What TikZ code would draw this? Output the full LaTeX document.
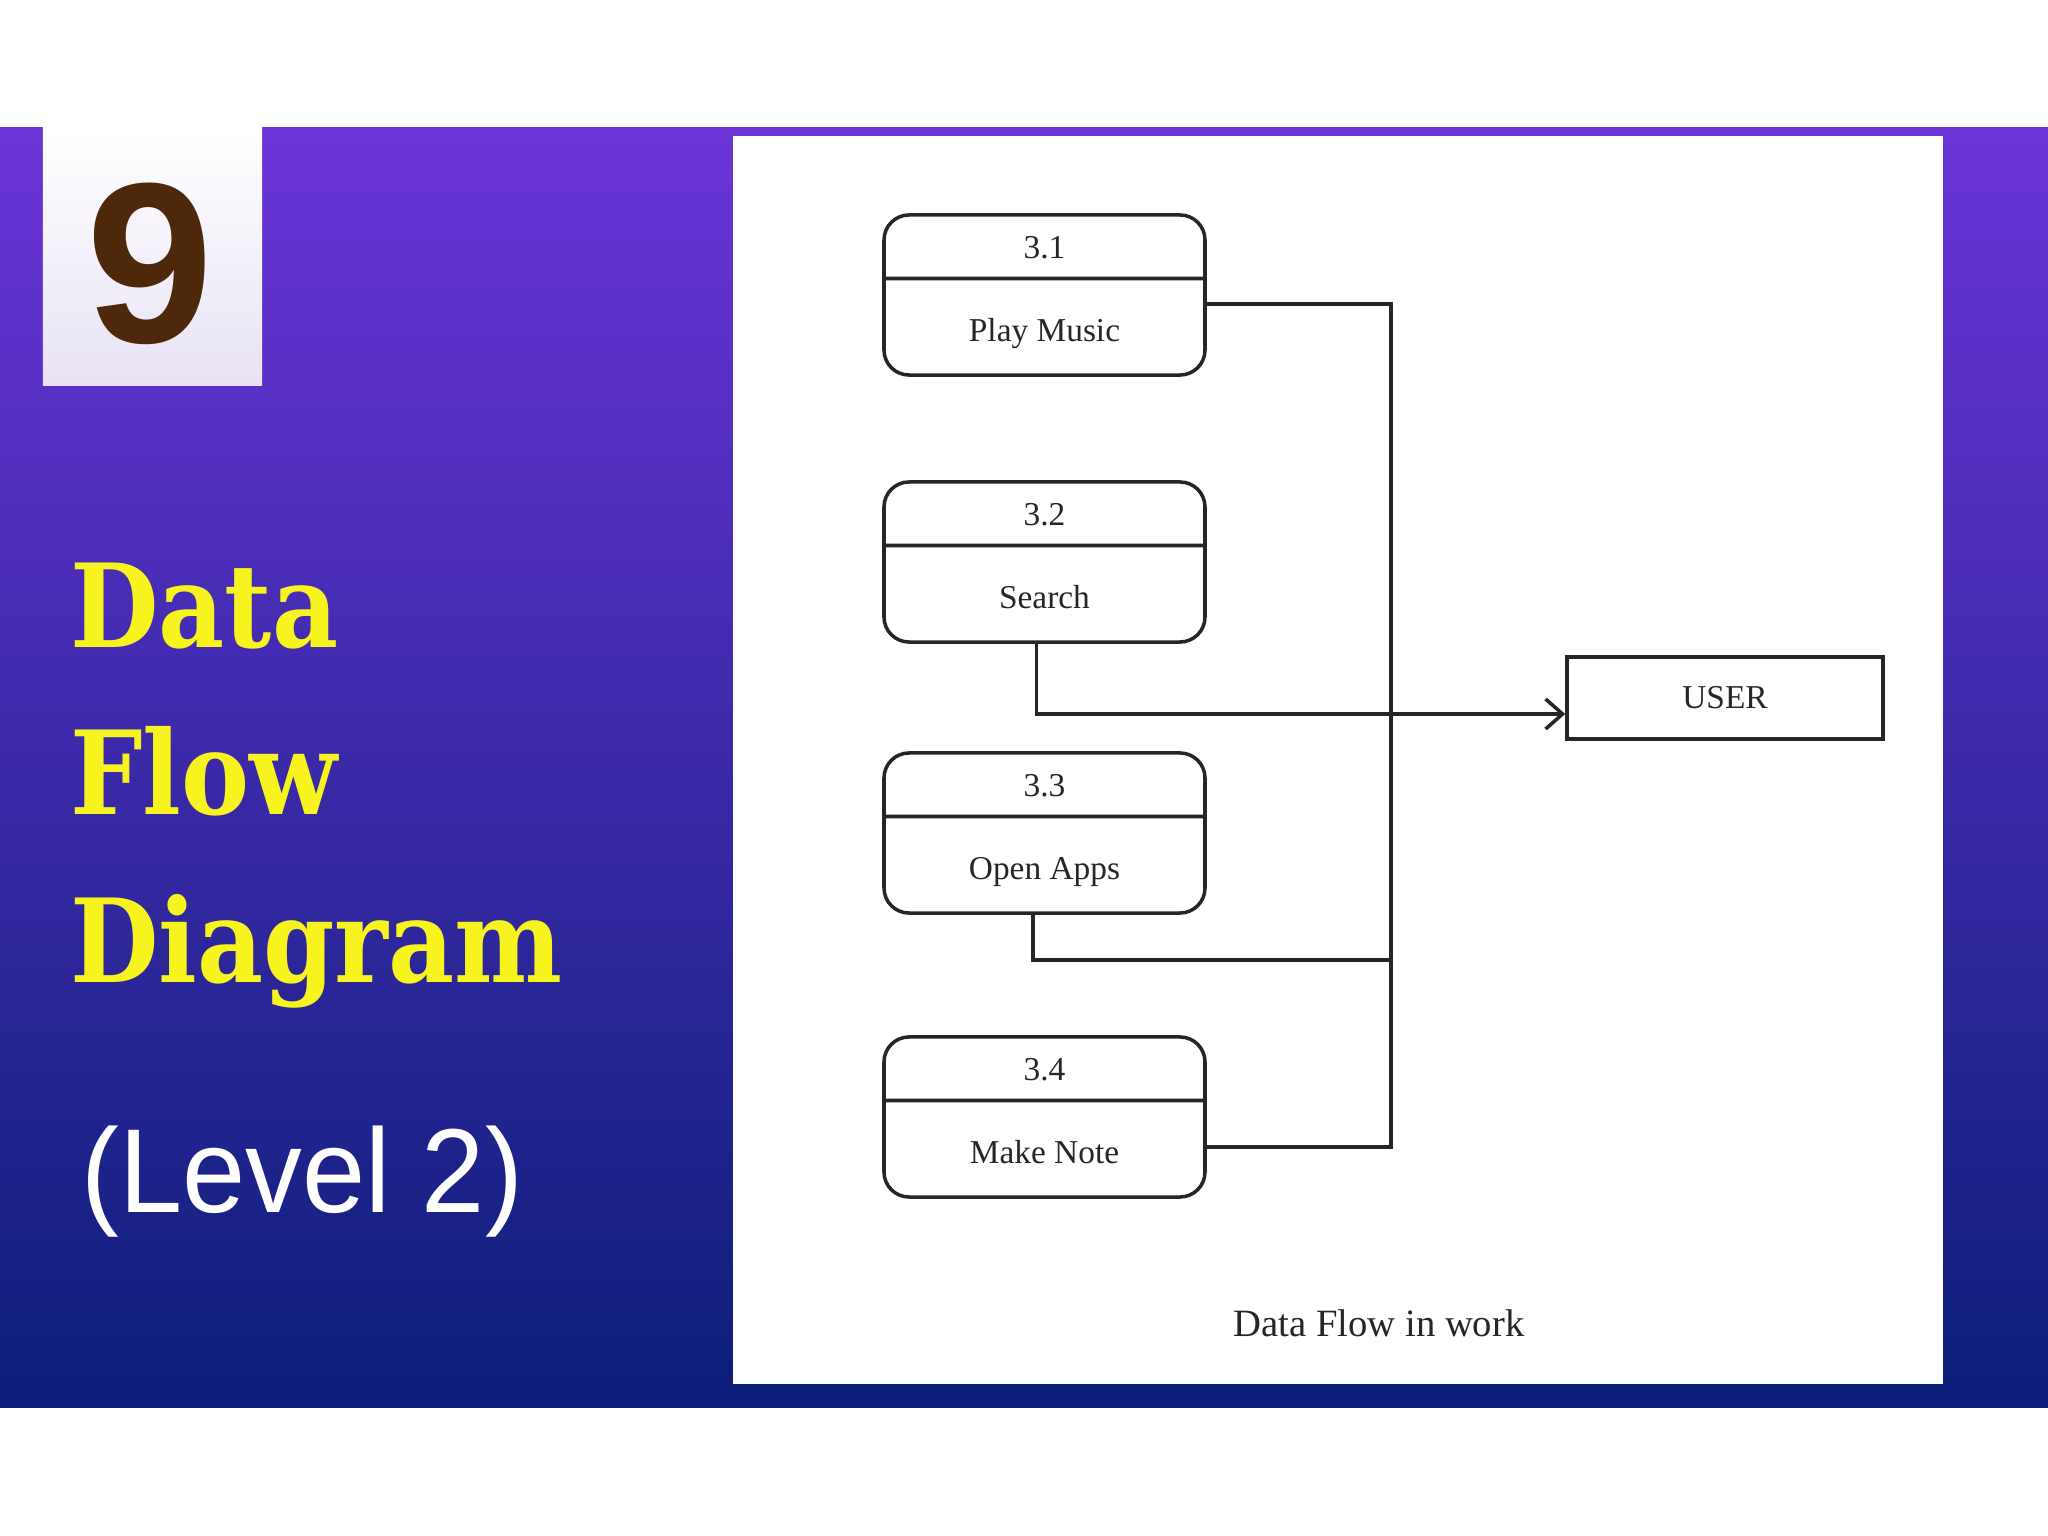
\documentclass[tikz,border=0pt]{standalone}
\usepackage{fontspec}
\setmainfont{Liberation Serif}
\newfontfamily\slabfont{DejaVu Serif}
\newfontfamily\headfont{Liberation Sans}
\usetikzlibrary{shapes.multipart,arrows.meta}
\definecolor{bannertop}{RGB}{107,52,216}
\definecolor{bannermid}{RGB}{60,42,178}
\definecolor{bannerbot}{RGB}{11,30,120}
\definecolor{titleyellow}{RGB}{246,243,30}
\definecolor{numbrown}{RGB}{78,40,10}
\definecolor{ink}{RGB}{38,38,38}

\begin{document}
\begin{tikzpicture}[thick,
		procbox/.style={rectangle split, rectangle split parts=2, draw=ink, line width=1pt,
			rounded corners=0.25cm, minimum width=3.21cm, inner xsep=0pt, inner ysep=0pt,
			font=\fontsize{9.5}{11}\selectfont, text=ink},
		userbox/.style={draw=ink, line width=1pt, minimum width=3.16cm, minimum height=0.82cm,
			inner sep=0pt, font=\fontsize{9.5}{11}\selectfont, text=ink},
		titletext/.style={anchor=base west, inner sep=0pt, xscale=0.88, text=titleyellow,
			font=\slabfont\bfseries\fontsize{33}{33}\selectfont},
		flow/.style={draw=ink, line width=1pt}]
			\fill[white] (0,0) rectangle (20.48,-15.36);
			\shade[top color=bannertop, middle color=bannermid, bottom color=bannerbot] (0,-1.28) rectangle (20.48,-14.07);
			\shade[top color=white, bottom color={rgb,255:red,232;green,226;blue,244}] (0.43,-1.28) rectangle (2.62,-3.86);
			\fill[white] (7.33,-1.36) rectangle (19.43,-13.84);
			
			\node[anchor=base, inner sep=0pt, text=numbrown, font=\headfont\bfseries\fontsize{65}{65}\selectfont] (num) at (1.50,-3.43) {9};
			\node[titletext] (t1) at (0.69,-6.48) {Data};
			\node[titletext] (t2) at (0.69,-8.15) {Flow};
			\node[titletext] (t3) at (0.69,-9.82) {Diagram};
			\node[anchor=base west, inner sep=0pt, xscale=0.95, text=white, font=\headfont\fontsize{34}{34}\selectfont] (lvl) at (0.80,-12.12) {(Level 2)};
			
			\foreach \n/\name/\y in {1/Play Music/2.95, 2/Search/5.62, 3/Open Apps/8.33, 4/Make Note/11.17}
				\node[procbox] (p\n) at (10.445,-\y) {\rule[-0.18cm]{0pt}{0.60cm}3.\n\nodepart{two}\rule[-0.32cm]{0pt}{0.93cm}\name};
			\node[userbox] (user) at (17.25,-6.98) {USER};
			\node[anchor=base, inner sep=0pt, text=ink, font=\fontsize{11}{13}\selectfont] (cap) at (13.79,-13.36) {Data Flow in work};
			
			\coordinate (bus) at (13.91,-3.04);
			\coordinate (e1) at ([yshift=-0.09cm]p1.east);
			\coordinate (e4) at ([yshift=-0.30cm]p4.east);
			\coordinate (j3) at (13.91,-9.60);
			\draw[flow] (e1) -| (bus |- e4) -- (e4);
			\draw[flow] ([xshift=-0.115cm]p3.south) |- (j3);
			\draw[flow,-{Straight Barb[length=0.17cm,width=0.3cm]}] ([xshift=-0.08cm]p2.south) |- ([yshift=-0.16cm]user.west);
		\end{tikzpicture}
\end{document}
